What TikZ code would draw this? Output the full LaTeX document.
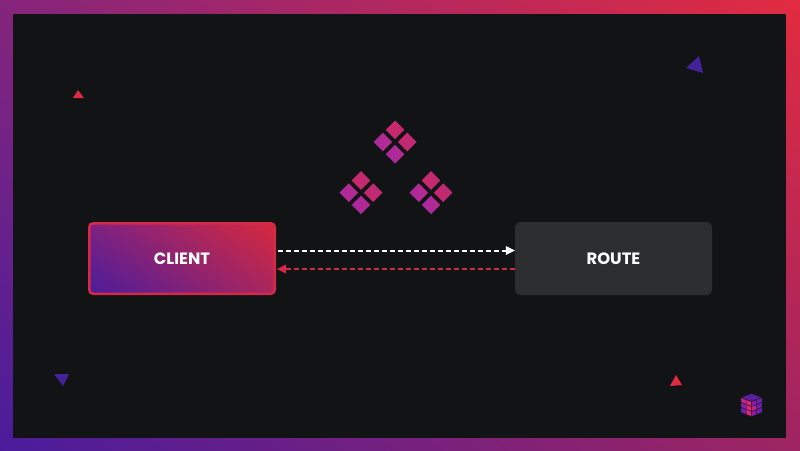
\documentclass[tikz,border=0pt]{standalone}
\usepackage{fontspec}
\setmainfont{Poppins}
\usetikzlibrary{shadings,arrows.meta,calc}
\definecolor{bgdark}{HTML}{121315}
\definecolor{fblue}{HTML}{4A1C9C}
\definecolor{fred}{HTML}{E22B40}
\definecolor{ful}{HTML}{85257C}
\definecolor{flr}{HTML}{9E2562}
\definecolor{bul}{HTML}{7E2282}
\definecolor{blr}{HTML}{A9265E}
\definecolor{routebox}{HTML}{2C2D2F}
\definecolor{linkred}{HTML}{D42A48}
\definecolor{triblue}{HTML}{43229A}
\definecolor{trired}{HTML}{E02A42}
\definecolor{dtopa}{HTML}{C8296E}
\definecolor{dtopb}{HTML}{C2296F}
\definecolor{drighta}{HTML}{C4286E}
\definecolor{drightb}{HTML}{BE2A76}
\definecolor{dlefta}{HTML}{AC2A9E}
\definecolor{dleftb}{HTML}{B62A8C}
\definecolor{dbota}{HTML}{A828A4}
\definecolor{dbotb}{HTML}{B62A8C}
\definecolor{cubepink}{HTML}{E0267C}
\definecolor{cubemag}{HTML}{C0248F}
\definecolor{cubevio}{HTML}{8A20A8}
\definecolor{cubepur}{HTML}{7020B0}
\definecolor{cubedark}{HTML}{5A1FA0}
\tikzset{
  framegrad/.style={upper right=fred,lower left=fblue,upper left=ful,lower right=flr},
  boxlabel/.style={text=white,font=\bfseries\fontsize{16.4}{18}\selectfont},
  clientbox/.style={boxlabel,shape=rectangle,rounded corners=4pt,minimum width=185.5pt,minimum height=70.5pt,inner sep=0pt,
    draw=linkred,line width=2.5pt,upper right=fred!95!black,lower left=fblue,upper left=bul,lower right=blr},
  routenode/.style={boxlabel,shape=rectangle,rounded corners=5pt,minimum width=197pt,minimum height=73pt,inner sep=0pt,fill=routebox},
  whitelink/.style={white,line width=2pt,dash pattern=on 5pt off 3pt,-{Triangle[length=9pt,width=9pt,fill=white,line width=0pt]}},
  redlink/.style={linkred,line width=2pt,dash pattern=on 5pt off 3pt,-{Triangle[length=9pt,width=9pt,fill=linkred,line width=0pt]}},
  cubecell/.style={draw=bgdark,line width=0.35pt},
}
\newcommand{\onediamond}[3]{\shade[left color=#2,right color=#3] ($#1+(-9.3,0)$)--($#1+(0,-9.3)$)--($#1+(9.3,0)$)--($#1+(0,9.3)$)--cycle;}
\newcommand{\cluster}[1]{%
  \onediamond{($#1+(0,-12.2)$)}{dtopa}{dtopb}
  \onediamond{($#1+(12.2,0)$)}{drighta}{drightb}
  \onediamond{($#1+(-12.2,0)$)}{dlefta}{dleftb}
  \onediamond{($#1+(0,12.2)$)}{dbota}{dbotb}
}
\newcommand{\cubequad}[5]{\fill[#5,cubecell] (#1,#3)--(#2,#4)--(#2,#4+5)--(#1,#3+5)--cycle;}
\begin{document}
\begin{tikzpicture}[x=1pt,y=-1pt]
\useasboundingbox (0,0) rectangle (800,450);
\shade[framegrad] (0,0) rectangle (800,450);
\fill[bgdark] (13,14) rectangle (786,438);
% triangles
\fill[triblue] (699,56)--(703,73)--(686,68)--cycle;
\fill[trired] (78,90)--(84,98)--(73,98)--cycle;
\fill[triblue] (54,374)--(69,374)--(63,386)--cycle;
\fill[trired] (676,375)--(682,385)--(670,386)--cycle;
% diamonds
\cluster{(395,142)}
\cluster{(361,192.7)}
\cluster{(431,192.7)}
% boxes
\node[clientbox] (client) at (182,258.5) {CLIENT};
\node[routenode] (route) at (613.5,258.5) {ROUTE};
% links
\draw[whitelink] ([yshift=8pt,xshift=2pt]client.east) -- ([yshift=8pt]route.west);
\draw[redlink] ([yshift=-10.5pt]route.west) -- ([yshift=-10.5pt,xshift=1pt]client.east);
% logo: left face
\foreach \r/\ca/\cb in {0/cubemag/cubepink,1/cubevio/cubepink,2/cubepur/cubepink}{
  \pgfmathsetmacro{\yy}{397.5+5*\r}
  \cubequad{741}{746.2}{\yy}{\yy+2}{\ca}
  \cubequad{746.2}{751.5}{\yy+2}{\yy+4}{\cb}
}
% logo: right face
\foreach \r/\ca/\cb in {0/cubevio/cubepur,1/cubemag/cubepur,2/cubevio/cubepur}{
  \pgfmathsetmacro{\yy}{401.5+5*\r}
  \cubequad{751.5}{756.8}{\yy}{\yy-2}{\ca}
  \cubequad{756.8}{762}{\yy-2}{\yy-4}{\cb}
}
% logo: top face
\fill[cubedark,cubecell] (751.5,393.5)--(762,397.5)--(751.5,401.5)--(741,397.5)--cycle;
\end{tikzpicture}
\end{document}
